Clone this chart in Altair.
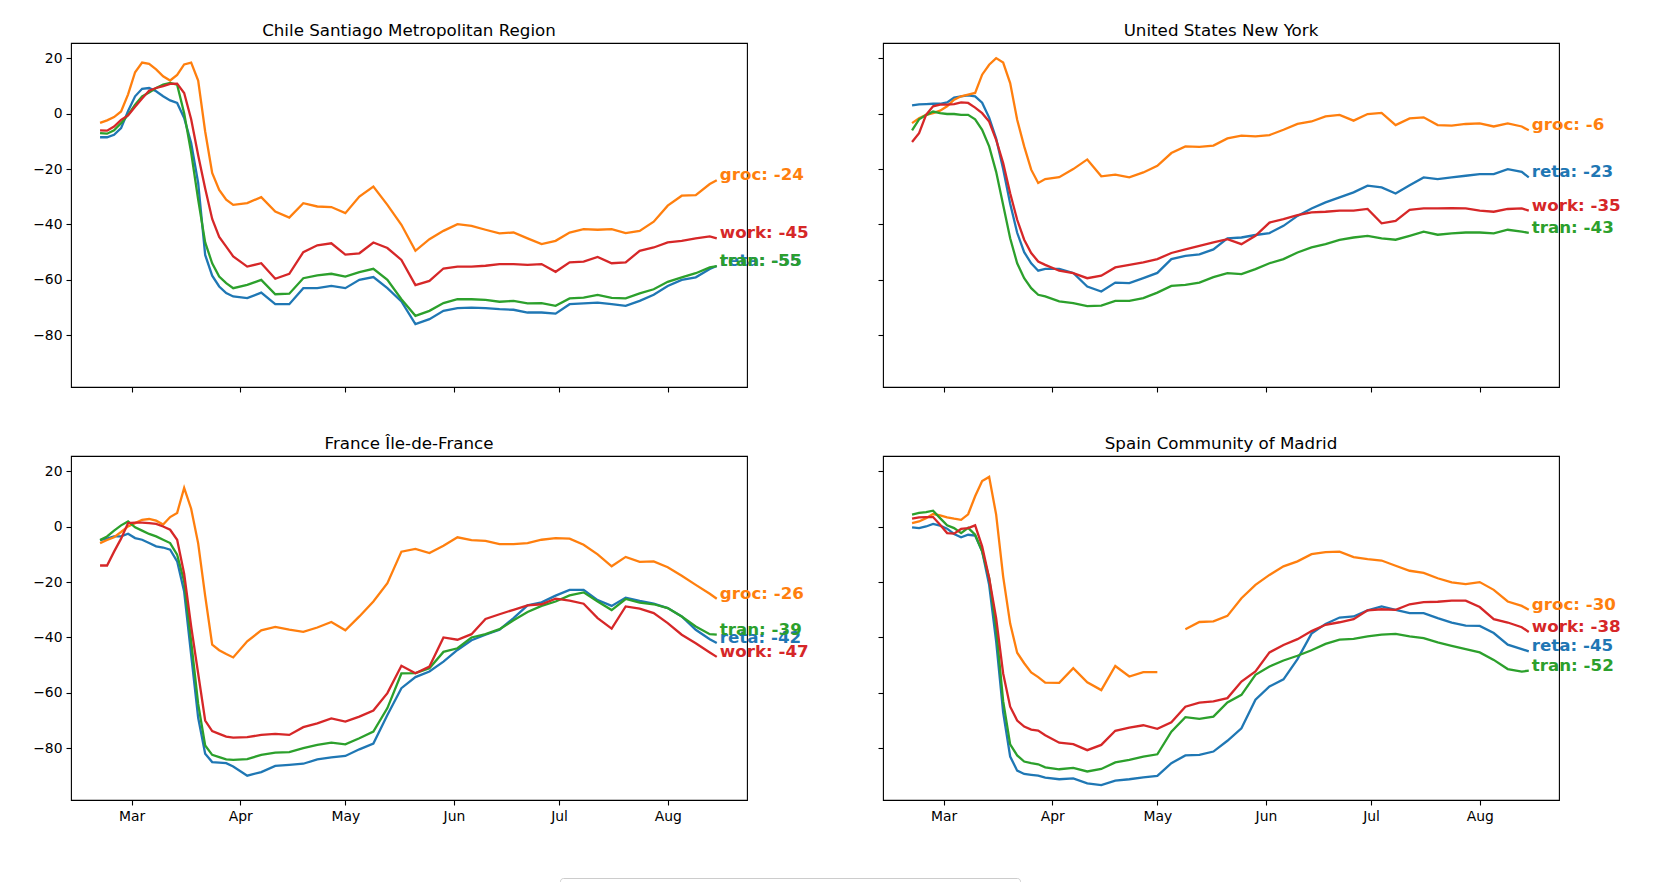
import altair as alt
import pandas as pd

DATES = ["2020-02-21", "2020-02-23", "2020-02-25", "2020-02-27", "2020-02-29",
         "2020-03-02", "2020-03-04", "2020-03-06", "2020-03-08", "2020-03-10",
         "2020-03-12", "2020-03-14", "2020-03-16", "2020-03-18", "2020-03-20",
         "2020-03-22", "2020-03-24", "2020-03-26", "2020-03-28", "2020-03-30",
         "2020-04-03", "2020-04-07", "2020-04-11", "2020-04-15", "2020-04-19",
         "2020-04-23", "2020-04-27", "2020-05-01", "2020-05-05", "2020-05-09",
         "2020-05-13", "2020-05-17", "2020-05-21", "2020-05-25", "2020-05-29",
         "2020-06-02", "2020-06-06", "2020-06-10", "2020-06-14", "2020-06-18",
         "2020-06-22", "2020-06-26", "2020-06-30", "2020-07-04", "2020-07-08",
         "2020-07-12", "2020-07-16", "2020-07-20", "2020-07-24", "2020-07-28",
         "2020-08-01", "2020-08-05", "2020-08-09", "2020-08-13", "2020-08-15"]

SERIES = ["reta", "groc", "tran", "work"]
COLORS = ["#1f77b4", "#ff7f0e", "#2ca02c", "#d62728"]
REGIONS = ["Chile Santiago Metropolitan Region", "United States New York",
           "France Île-de-France", "Spain Community of Madrid"]

CHILE_RETA = [-8.5, -8.5, -7.6, -5.2, 1.0, 6.3, 9.0, 9.3, 8.1, 6.3, 4.8, 3.9, -1.5, -10.6, -25, -51, -58.5, -62.4, -64.8, -66,
              -66.6, -64.6, -68.8, -68.8, -63, -63, -62.2, -63, -60, -59, -63, -67.8, -76, -74.2, -71.2, -70.2, -70, -70.2,
              -70.6, -70.8, -71.8, -71.8, -72.2, -68.8, -68.5, -68.2, -68.8, -69.4, -67.6, -65.4, -62.2, -60, -59.1, -56.1, -55]
CHILE_GROC = [-3.3, -2.4, -1.2, 0.8, 7, 15, 18.5, 18, 16, 13.5, 12, 14, 17.8, 18.5, 12, -6.4, -21.4, -27.5, -31, -32.9,
              -32.3, -30.1, -35.3, -37.5, -32.3, -33.5, -33.7, -35.9, -29.9, -26.3, -32.9, -40.1, -49.5, -45.3, -42.3, -39.9,
              -40.5, -41.9, -43.2, -42.9, -45, -47.1, -45.9, -42.9, -41.7, -41.9, -41.7, -43.1, -42.3, -39, -33.2, -29.6,
              -29.4, -25.4, -24]
CHILE_TRAN = [-7, -7.2, -6, -3.4, -0.4, 3.3, 6.3, 7.7, 9.3, 10.5, 11.1, 10.5, 0.2, -14, -31, -46.5, -54, -58.8, -61.2, -63,
              -61.8, -60, -65.2, -65, -59.4, -58.4, -57.8, -58.8, -57.2, -56, -60, -67, -73, -71.2, -68.4, -67, -67, -67.2,
              -67.9, -67.6, -68.5, -68.4, -69.4, -66.7, -66.4, -65.4, -66.5, -66.7, -64.9, -63.4, -60.7, -59.1, -57.6, -55.5, -55]
CHILE_WORK = [-6, -6.1, -4.6, -2.2, -0.6, 2.5, 5.5, 8.3, 9.3, 10, 10.8, 10.9, 7.5, -2, -15, -27, -38, -44.5, -48, -51.5,
              -55.2, -54, -59.6, -57.8, -50, -47.5, -46.8, -50.9, -50.4, -46.5, -48.5, -52.8, -61.9, -60.4, -55.9, -55.2,
              -55.2, -54.9, -54.3, -54.3, -54.6, -54.3, -57.1, -53.7, -53.4, -51.7, -54, -53.7, -49.5, -48.3, -46.5, -45.9,
              -45, -44.3, -45]

NY_RETA = [3.0, 3.4, 3.5, 3.6, 3.6, 4.1, 5.8, 6.3, 6.6, 6.3, 4, -1.4, -9, -20, -32.5, -43, -50, -54, -56.7, -56,
           -56, -57.5, -62.4, -64.2, -61, -61.2, -59.4, -57.5, -52.5, -51.3, -50.8, -49, -45, -44.7, -43.8, -43.1, -40.5,
           -36.9, -34.2, -32, -30.2, -28.4, -26, -26.6, -28.8, -25.8, -23, -23.6, -23, -22.4, -21.8, -21.8, -20, -21, -23]
NY_GROC = [-3.4, -1.6, -0.4, 0.2, 1.1, 2.7, 5.1, 6.3, 6.9, 7.5, 14.1, 17.7, 20.1, 18.5, 11.1, -2.2, -11.8, -20.2, -25, -23.6,
           -22.9, -20, -16.5, -22.6, -22, -23, -21.2, -18.8, -14.2, -11.8, -12, -11.5, -8.9, -7.9, -8.2, -7.7, -5.8, -3.7,
           -2.8, -0.95, -0.4, -2.5, -0.1, 0.3, -4.1, -1.7, -1.3, -4.1, -4.3, -3.7, -3.5, -4.6, -3.5, -4.6, -6]
NY_TRAN = [-6, -2, -0.5, 0.8, 0.2, -0.1, -0.1, -0.4, -0.4, -2, -5.8, -11.8, -21, -33, -45, -54, -59.4, -63, -65.4, -66,
           -67.8, -68.4, -69.5, -69.3, -67.6, -67.6, -66.6, -64.6, -62.2, -61.8, -61, -59, -57.6, -57.9, -56.1, -54, -52.5,
           -50.1, -48.3, -47.1, -45.6, -44.7, -44.1, -45, -45.5, -44.1, -42.6, -43.7, -43.2, -42.9, -42.9, -43.2, -41.9,
           -42.6, -43]
NY_WORK = [-10.2, -7, -0.4, 2.7, 3.3, 3.3, 3.5, 4.1, 3.9, 2.2, 0.2, -2.8, -9.4, -17.8, -28.7, -38.3, -45.5, -50.3, -53.4, -54.6,
           -56.7, -57.6, -59.4, -58.5, -55.5, -54.6, -53.7, -52.5, -50.3, -49, -47.7, -46.5, -45.3, -47.1, -44.1, -39.3,
           -38.1, -36.6, -35.6, -35.4, -35, -35, -34.4, -39.6, -38.7, -34.7, -34.2, -34.2, -34.1, -34.2, -35, -35.4, -34.4,
           -34.2, -35]

FR_RETA = [-4.8, -4.3, -3.5, -3.5, -2.5, -4.1, -4.7, -5.9, -7.1, -7.5, -8.3, -12.5, -23.4, -46.3, -69, -82, -85, -85.2, -85.4, -86.6,
           -89.9, -88.6, -86.4, -86, -85.6, -84, -83.3, -82.8, -80.4, -78.3, -68, -58.3, -54.3, -52.3, -48.7, -44.5, -41,
           -39, -37.2, -33, -28.4, -27.3, -24.9, -22.8, -22.8, -26.5, -28.6, -25.6, -26.8, -27.8, -29.4, -32.4, -37.2, -40.6, -42]
FR_GROC = [-5.9, -4.8, -3.8, -1.9, 0.1, 1.3, 2.5, 2.8, 2.2, 0.8, 3.5, 5, 14, 6.5, -6, -25, -42.6, -44.6, -46, -47.2,
           -41.4, -37.4, -36.2, -37.2, -38, -36.4, -34.4, -37.4, -32.4, -27, -20.4, -9, -8, -9.5, -6.9, -3.8, -4.8, -5.1,
           -6.3, -6.3, -5.9, -4.7, -4.1, -4.3, -6.5, -10, -14.3, -10.9, -12.7, -12.5, -14.6, -17.7, -21, -24.2, -26]
FR_TRAN = [-4.8, -3.5, -1.4, 0.5, 1.9, -0.2, -1.4, -2.6, -3.5, -4.7, -5.9, -10.1, -19.8, -41.4, -64, -79, -82.4, -83.2, -84, -84.2,
           -83.9, -82.4, -81.6, -81.4, -80, -78.8, -78, -78.6, -76.4, -74, -65.5, -53, -52.9, -51.1, -45.2, -43.9, -40,
           -38.8, -37, -33.8, -30.8, -28.6, -27, -24.8, -23.7, -27, -30.1, -26.1, -27.4, -28, -29.4, -32.4, -36, -38.8, -39]
FR_WORK = [-14, -14, -9, -4.3, 1.3, 1.5, 1.5, 1.3, 1, 0.1, -1.1, -4.7, -17, -36, -53, -70, -73.8, -74.8, -75.8, -76.2,
           -76, -75.2, -74.8, -75.2, -72.4, -71, -69.2, -70.4, -68.6, -66.4, -60.1, -50.2, -52.9, -50.5, -40, -40.8, -38.8,
           -33.3, -31.6, -30, -28.4, -28, -26, -26.7, -27.8, -33, -36.8, -28.8, -29.6, -31.2, -34.8, -39, -42.1, -45.4, -47]

SP_RETA = [-0.2, -0.5, 0.1, 1, 0.4, -0.7, -2.6, -3.8, -2.9, -3.2, -8.9, -21, -41.4, -67, -83, -88.1, -89.3, -89.6, -89.9, -90.6,
           -91.2, -90.9, -92.7, -93.3, -91.7, -91.2, -90.5, -90, -85.4, -82.6, -82.4, -81.2, -77.3, -72.8, -62.5, -57.7,
           -55.1, -47.8, -38.6, -35.1, -32.8, -32.4, -30.2, -28.8, -30, -31.2, -31.2, -33, -34.6, -35.7, -35.8, -38.4,
           -42.6, -44.2, -45]
SP_GROC = [1.3, 1.9, 3.1, 4.6, 4.1, 3.4, 2.9, 2.5, 4.5, 11, 16.5, 18, 4.4, -18, -35, -45.5, -49.3, -52.6, -54.3, -56.3,
           -56.4, -51.1, -56.2, -59, -50.3, -54.1, -52.5, -52.5, None, -37, -34.4, -34.2, -32.2, -25.8, -21, -17.4, -14.3,
           -12.5, -9.9, -9.2, -9, -11, -11.7, -12.2, -14.1, -15.9, -16.7, -18.6, -20.1, -20.7, -20, -22.8, -27, -28.6, -30]
SP_TRAN = [4.4, 5, 5.3, 5.8, 3.1, 0.5, -0.5, -2.3, -0.4, -2.9, -8.9, -18.5, -36.6, -63, -78.6, -82.6, -84.8, -85.4, -85.8, -86.9,
           -87.6, -87.1, -88.4, -87.5, -85.1, -84.2, -83, -82.2, -74, -68.8, -69.4, -68.6, -63.5, -60.7, -53.5, -50.5,
           -48.3, -46.6, -44.6, -42.3, -40.8, -40.5, -39.6, -39, -38.7, -39.6, -40.2, -41.8, -43, -44.2, -45.4, -48.1,
           -51.4, -52.3, -52]
SP_WORK = [2.9, 3.4, 3.5, 3.5, 0.7, -2.3, -2.5, -0.8, -0.5, 0.5, -7.1, -18.5, -33, -53, -65, -70, -72.2, -73.3, -73.6, -75.3,
           -78, -78.5, -80.7, -78.8, -73.7, -72.6, -71.7, -73, -70.6, -65, -63.5, -63.1, -61.9, -55.9, -52.3, -45.4, -42.7,
           -40.6, -37.7, -35.4, -34.5, -33.4, -30.2, -29.8, -30, -28, -27.2, -27.1, -26.7, -26.7, -29, -33.4, -34.6, -36.3, -38]

PANEL_DATA = [
    {"reta": CHILE_RETA, "groc": CHILE_GROC, "tran": CHILE_TRAN, "work": CHILE_WORK},
    {"reta": NY_RETA, "groc": NY_GROC, "tran": NY_TRAN, "work": NY_WORK},
    {"reta": FR_RETA, "groc": FR_GROC, "tran": FR_TRAN, "work": FR_WORK},
    {"reta": SP_RETA, "groc": SP_GROC, "tran": SP_TRAN, "work": SP_WORK},
]

Y_DOMAIN = [-98.7, 25.55]
Y_TICKS = [-80, -60, -40, -20, 0, 20]
X_DOMAIN = [alt.DateTime(year=2020, month=2, date=12, hours=17),
            alt.DateTime(year=2020, month=8, date=23, hours=15)]
MONTH_TICKS = [alt.DateTime(year=2020, month=m, date=1) for m in range(3, 9)]

FONT = "DejaVu Sans"
color_scale = alt.Scale(domain=SERIES, range=COLORS)
legend = alt.Legend(orient="none", legendX=489, legendY=835, direction="horizontal",
                    columns=4, title=None, symbolType="stroke", symbolStrokeWidth=2.1,
                    symbolSize=784, labelFontSize=13.9, labelFont=FONT, labelColor="black",
                    labelOffset=11, columnPadding=49, padding=7, strokeColor="#cccccc",
                    fillColor="white", cornerRadius=3)


def make_panel(idx):
    data = PANEL_DATA[idx]
    rows = []
    for s in SERIES:
        for d, v in zip(DATES, data[s]):
            rows.append({"date": d, "value": v, "series": s})
    df = pd.DataFrame(rows)
    df["date"] = pd.to_datetime(df["date"])
    top = idx < 2
    left = idx % 2 == 0

    x = alt.X("date:T", title=None,
              scale=alt.Scale(domain=X_DOMAIN),
              axis=alt.Axis(values=MONTH_TICKS, format="%b", labels=not top,
                            grid=False, domain=False, tickSize=5, tickWidth=1.1,
                            tickColor="black", labelColor="black",
                            labelFontSize=13.9, labelFont=FONT, labelPadding=4,
                            labelFlush=False))
    y = alt.Y("value:Q", title=None,
              scale=alt.Scale(domain=Y_DOMAIN, nice=False, zero=False),
              axis=alt.Axis(values=Y_TICKS, labels=left, grid=False, domain=False,
                            tickSize=5, tickWidth=1.1, tickColor="black",
                            labelColor="black", labelFontSize=13.9, labelFont=FONT,
                            labelPadding=4, labelFlush=False,
                            labelExpr="replace(datum.label, '-', '\u2212')"))
    color = alt.Color("series:N", scale=color_scale, legend=legend)

    layers = []
    for s in SERIES:
        sub = df[df["series"] == s]
        layers.append(
            alt.Chart(sub).mark_line(strokeWidth=2.3, invalid="break-paths-show-domains")
            .encode(x=x, y=y, color=color)
        )
    for s in SERIES:
        sub = df[(df["series"] == s)].dropna().sort_values("date").tail(1).copy()
        sub["label"] = [f"{s}: {int(round(v))}" for v in sub["value"]]
        layers.append(
            alt.Chart(sub).mark_text(align="left", baseline="alphabetic", dx=3,
                                     fontSize=16.7, fontWeight="bold", font=FONT)
            .encode(x=x, y=y, color=color, text="label:N")
        )
    return alt.layer(*layers).properties(
        width=676, height=344,
        title=alt.TitleParams(text=REGIONS[idx], fontSize=16.7, fontWeight="normal",
                              font=FONT, color="black", offset=-9.5,
                              baseline="alphabetic", anchor="middle"),
    )


panels = [make_panel(i) for i in range(4)]

chart = alt.concat(*panels, columns=2, spacing={"row": 69, "column": 136},
                   bounds="flush").properties(
    padding={"left": 24, "top": 14, "right": 10, "bottom": 10}
).configure(font=FONT).configure_view(stroke="black", strokeWidth=1.1)

chart.save("out.html", embed_options={"renderer": "svg", "actions": False})
